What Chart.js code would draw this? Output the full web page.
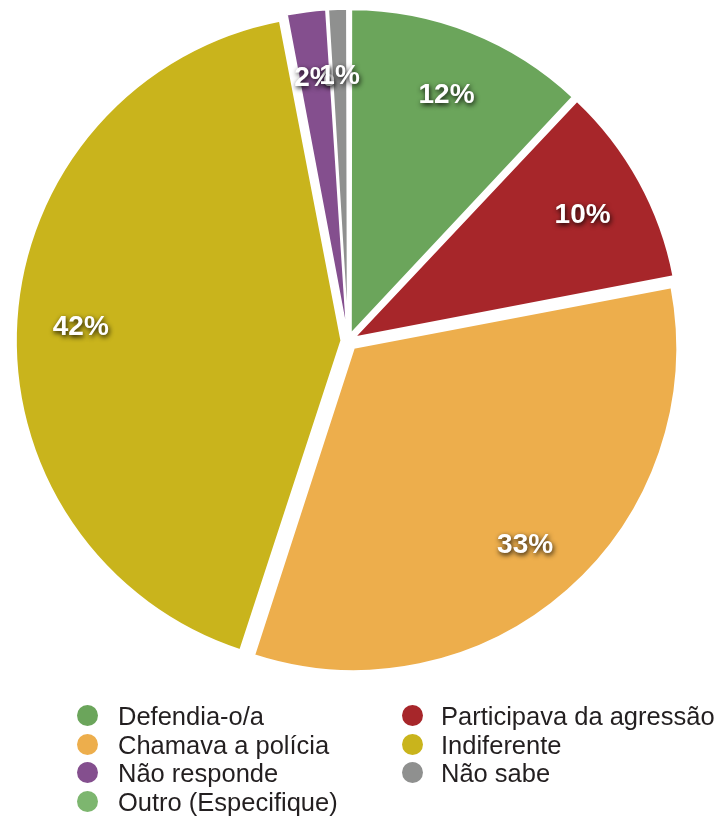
<!DOCTYPE html>
<html>
<head>
<meta charset="utf-8">
<script src="https://cdn.jsdelivr.net/npm/chart.js@4.4.1/dist/chart.umd.min.js"></script>
<style>
  body { margin: 0; background: #fff; }
  #wrap { position: relative; width: 727px; height: 816px; }
  #legend { position: absolute; left: 0; top: 0; width: 727px; height: 816px; pointer-events: none;
    font-family: "Liberation Sans", Arial, sans-serif; font-size: 25.5px; color: #231f20; }
  .item { position: absolute; height: 28px; line-height: 28px; white-space: nowrap; }
  .dot { position: absolute; width: 21px; height: 21px; border-radius: 50%; top: 3px; }
  .txt { position: absolute; }
</style>
</head>
<body>
<div id="wrap">
  <canvas id="pie" width="727" height="683"></canvas>
  <div id="legend"></div>
</div>
<script>
// dados do gráfico
const categorias = ['Defendia-o/a', 'Participava da agressão', 'Chamava a polícia', 'Indiferente', 'Não responde', 'Não sabe', 'Outro (Especifique)'];
const percentagens = [12, 10, 33, 42, 2, 1, 0];
const cores = ['#6ba55b', '#a7262a', '#edae4c', '#c9b41c', '#844f8e', '#8f908f', '#7db66f'];

const DESLOC = 10; // afastamento visível de cada fatia em px

// Chart.js v4 desloca offset/4 * (1 + fix); aqui compensamos para um afastamento igual
function offsetFatia(ctx) {
  const total = percentagens.reduce((a, b) => a + b, 0);
  const circ = percentagens[ctx.dataIndex] / total * Math.PI * 2;
  const fix = 1 - Math.sin(Math.min(Math.PI, circ));
  return 4 * DESLOC / (1 + fix);
}

// etiquetas brancas com sombra dentro das fatias
const rotulos = {
  id: 'rotulos',
  afterDatasetsDraw(chart) {
    const ctx = chart.ctx;
    const meta = chart.getDatasetMeta(0);
    ctx.save();
    ctx.font = 'bold 28px "Liberation Sans", Arial, sans-serif';
    ctx.fillStyle = '#fff';
    ctx.textAlign = 'center';
    ctx.textBaseline = 'middle';
    ctx.shadowColor = 'rgba(0,0,0,0.9)';
    ctx.shadowBlur = 5;
    ctx.shadowOffsetX = 1;
    ctx.shadowOffsetY = 2;
    meta.data.forEach((arc, i) => {
      const v = percentagens[i];
      if (!v) return;
      const mid = (arc.startAngle + arc.endAngle) / 2;
      const r = DESLOC + arc.outerRadius * 0.8;
      ctx.fillText(v + '%', arc.x + Math.cos(mid) * r, arc.y + Math.sin(mid) * r + 3);
    });
    ctx.restore();
  }
};

new Chart(document.getElementById('pie'), {
  type: 'pie',
  data: {
    labels: categorias,
    datasets: [{
      data: percentagens,
      backgroundColor: cores,
      borderColor: '#fff',
      borderWidth: 2,
      offset: offsetFatia,
      hoverOffset: 0
    }]
  },
  options: {
    responsive: false,
    animation: false,
    layout: { padding: { top: 0, bottom: 1, left: 0, right: 31 } },
    plugins: {
      legend: { display: false },
      tooltip: { enabled: false }
    }
  },
  plugins: [rotulos]
});

// legenda em duas colunas
const legend = document.getElementById('legend');
categorias.forEach((nome, i) => {
  const col = i % 2, row = Math.floor(i / 2);
  const item = document.createElement('div');
  item.className = 'item';
  item.style.top = (702 + row * 28.5) + 'px';
  item.style.left = (col ? 402 : 77) + 'px';
  item.innerHTML = '<span class="dot" style="background:' + cores[i] + '"></span>' +
    '<span class="txt" style="left:' + (col ? 39 : 41) + 'px">' + nome + '</span>';
  legend.appendChild(item);
});
</script>
</body>
</html>
